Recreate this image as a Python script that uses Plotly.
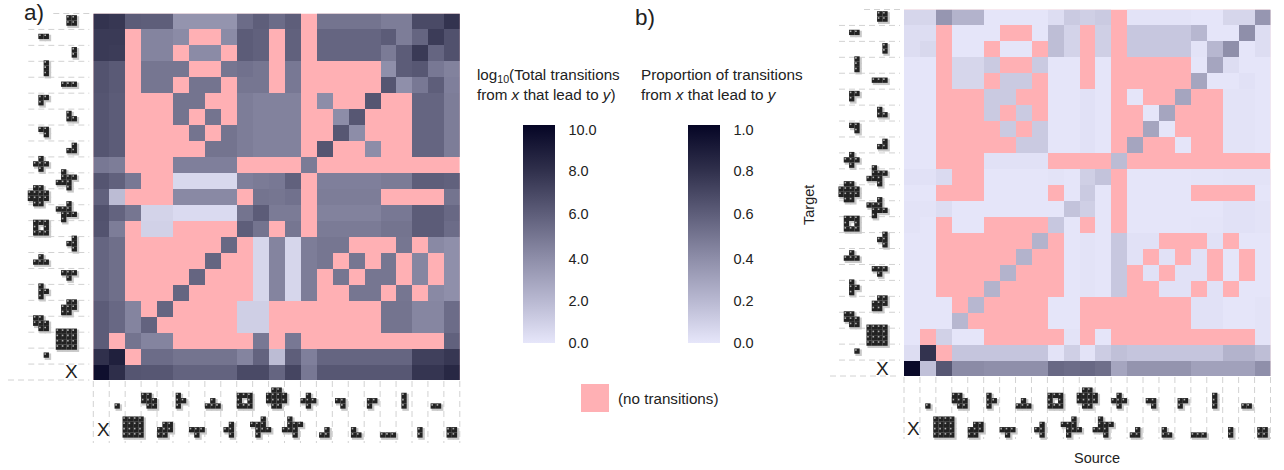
import plotly.graph_objects as go

W, H = 1284, 470
N = None

# Value rows run from the top row (y index 22) to the bottom row (y index 0, "X").
LOG_TOTALS = [
    [7.8,7.6,6.0,5.9,5.9,3.6,3.6,3.6,3.6,5.3,5.9,5.3,5.9,N,5.0,5.0,5.0,5.0,4.6,4.6,6.8,6.8,7.8],
    [7.5,7.5,N,4.3,4.3,4.0,N,N,4.0,6.0,5.8,N,5.8,N,5.6,5.6,5.6,5.6,6.0,4.6,5.6,7.4,6.5],
    [7.5,7.4,N,4.3,4.3,N,4.0,4.0,N,6.0,5.8,N,5.8,N,5.6,5.6,5.6,5.6,4.7,6.0,7.5,5.6,6.5],
    [6.4,6.1,N,4.9,4.9,4.9,N,N,4.9,5.1,4.9,N,4.8,N,N,N,N,N,3.8,6.0,6.2,4.8,4.4],
    [6.4,6.1,N,4.9,4.9,N,5.0,5.0,N,4.9,4.9,N,4.8,N,N,N,N,N,6.3,3.8,4.8,5.9,4.5],
    [6.3,6.0,N,N,N,5.0,5.0,N,N,4.6,4.4,4.4,4.4,N,3.9,N,N,6.3,N,N,5.6,5.6,4.6],
    [6.3,6.0,N,N,N,5.0,N,5.0,N,4.6,4.4,4.4,4.4,N,N,3.9,6.2,N,N,N,5.6,5.6,4.6],
    [6.3,6.0,N,N,N,N,5.0,N,5.0,4.6,4.4,4.4,4.4,N,N,6.2,3.9,N,N,N,5.6,5.6,4.6],
    [6.3,6.0,N,N,N,N,N,5.0,5.0,4.6,4.4,4.4,4.4,N,6.3,N,N,3.9,N,N,5.6,5.6,4.6],
    [4.8,4.6,N,N,N,4.5,4.5,4.5,4.5,N,N,N,N,4.7,N,N,N,N,N,N,N,N,N],
    [6.3,5.8,4.8,N,N,0.6,0.6,0.6,0.6,4.5,4.7,4.8,5.8,N,4.5,4.5,4.5,4.5,4.7,4.7,5.9,5.9,5.8],
    [5.8,1.8,N,N,N,4.1,4.1,4.1,4.1,N,5.0,4.9,5.1,N,4.6,4.6,4.6,4.6,N,N,N,N,5.0],
    [6.5,5.7,4.9,0.8,0.8,0.5,0.5,0.5,0.5,5.0,6.0,4.7,4.7,N,4.4,4.4,4.4,4.4,4.8,4.8,6.0,6.0,5.5],
    [6.4,4.6,N,0.9,0.9,N,N,N,N,5.9,5.0,N,4.9,N,4.7,4.7,4.7,4.7,5.0,5.0,6.0,6.0,5.3],
    [5.6,5.2,N,N,N,N,N,N,5.5,N,0.7,4.3,0.7,4.6,4.9,4.9,N,N,N,4.9,N,4.1,3.8],
    [5.6,5.2,N,N,N,N,N,5.6,N,N,0.7,4.3,0.7,4.6,4.9,N,4.9,N,4.9,N,4.2,N,3.8],
    [5.6,5.2,N,N,N,N,5.6,N,N,N,0.7,4.3,0.7,4.6,N,4.9,N,4.9,4.9,N,4.2,N,3.8],
    [5.6,5.2,N,N,N,5.6,N,N,N,N,0.7,4.3,0.7,4.6,N,N,4.9,4.9,N,4.9,N,4.1,3.8],
    [6.0,5.5,4.3,N,5.6,N,N,N,N,1.0,1.0,N,N,N,N,N,N,N,5.0,5.0,4.2,4.2,5.3],
    [6.0,5.5,4.3,5.7,N,N,N,N,N,1.0,1.0,N,N,N,N,N,N,N,5.0,5.0,4.2,4.2,5.3],
    [6.0,N,5.0,4.3,4.3,N,N,N,N,N,4.8,N,4.8,N,N,N,N,N,N,N,N,N,5.8],
    [7.9,8.7,N,5.3,5.3,5.0,5.0,5.0,5.0,4.3,5.7,1.8,5.9,4.5,5.6,5.6,5.6,5.6,5.6,5.6,7.2,7.2,7.6],
    [9.5,8.0,6.3,6.2,6.2,5.7,5.7,5.7,5.7,6.8,6.8,5.6,7.0,4.8,6.2,6.2,6.2,6.2,6.2,6.2,7.7,7.7,8.3],
]

PROPORTIONS = [
    [.07,.07,.35,.22,.22,.005,.005,.005,.005,.04,.12,.10,.12,N,.012,.012,.012,.012,.005,.005,.07,.07,.35],
    [.04,.04,N,.005,.005,.005,N,N,.005,.17,.08,N,.10,N,.13,.13,.13,.13,.20,.005,.005,.38,.04],
    [.04,.06,N,.005,.005,N,.005,.005,N,.17,.08,N,.10,N,.13,.13,.13,.13,.012,.20,.38,.005,.04],
    [.005,.005,N,.07,.07,.12,N,N,.12,.005,.005,N,.005,N,N,N,N,N,.005,.28,.04,.005,.005],
    [.005,.005,N,.07,.07,N,.12,.12,N,.005,.005,N,.005,N,N,N,N,N,.28,.005,.005,.02,.005],
    [.005,.005,N,N,N,.12,.12,N,N,.005,.005,.02,.005,N,.005,N,N,.28,N,N,.012,.012,.005],
    [.005,.005,N,N,N,.12,N,.12,N,.005,.005,.02,.005,N,N,.005,.28,N,N,N,.012,.012,.005],
    [.005,.005,N,N,N,N,.12,N,.12,.005,.005,.02,.005,N,N,.28,.005,N,N,N,.012,.012,.005],
    [.005,.005,N,N,N,N,N,.12,.12,.005,.005,.02,.005,N,.28,N,N,.005,N,N,.012,.012,.005],
    [.005,.005,N,N,N,.02,.02,.02,.02,N,N,N,N,.18,N,N,N,N,N,N,N,N,N],
    [.02,.02,.05,N,N,.005,.005,.005,.005,.012,.005,.10,.15,N,.005,.005,.005,.005,.01,.01,.012,.012,.012],
    [.005,.005,N,N,N,.005,.005,.005,.005,N,.005,.12,.005,N,.005,.005,.005,.005,N,N,N,N,.005],
    [.012,.012,.04,.005,.005,.005,.005,.005,.005,.005,.15,.10,.005,N,.005,.005,.005,.005,.005,.005,.02,.02,.012],
    [.012,.005,N,.005,.005,N,N,N,N,.13,.005,N,.005,N,.005,.005,.005,.005,.01,.01,.02,.02,.012],
    [.005,.005,N,N,N,N,N,N,.22,N,.005,.012,.005,.13,.02,.02,N,N,N,.02,N,.005,.005],
    [.005,.005,N,N,N,N,N,.22,N,N,.005,.012,.005,.13,.02,N,.02,N,.02,N,.005,N,.005],
    [.005,.005,N,N,N,N,.22,N,N,N,.005,.012,.005,.13,N,.02,N,.02,.02,N,.005,N,.005],
    [.005,.005,N,N,N,.22,N,N,N,N,.005,.012,.005,.13,N,N,.02,.02,N,.02,N,.005,.005],
    [.005,.005,.005,N,.20,N,N,N,N,.005,.005,N,N,N,N,N,N,N,.02,.02,.005,.005,.012],
    [.005,.005,.005,.20,N,N,N,N,N,.005,.005,N,N,N,N,N,N,N,.02,.02,.005,.005,.012],
    [.005,N,.09,.005,.005,N,N,N,N,N,.012,N,.005,N,N,N,N,N,N,N,N,N,.012],
    [.04,.78,N,.14,.14,.14,.14,.14,.14,.012,.10,.012,.11,.16,.14,.14,.14,.14,.14,.14,.22,.22,.17],
    [.98,.16,.62,.40,.40,.38,.38,.38,.38,.55,.53,.55,.52,.28,.36,.36,.36,.36,.30,.30,.30,.30,.38],
]

# Tick labels: the game pieces, index 0 is the text "X", drawn as small cell patterns.
PIECES = [
    ["#"],
    ["####", "####", "####", "####"],
    ["##.", "###", ".##"],
    [".##", "###", "##."],
    ["#.", "##", "#."],
    ["###", ".#."],
    [".#.", "###"],
    [".#", "##", ".#"],
    ["###", "#.#", "###"],
    ["..#.", "###.", ".###", ".#.."],
    [".##.", "####", "####", ".##."],
    [".#..", ".###", "###.", "..#."],
    [".#.", "###", ".#."],
    [".#", "##"],
    ["##", ".#"],
    ["#.", "##"],
    ["##", "#."],
    ["###"],
    ["#", "#", "#"],
    ["#", "#"],
    ["##"],
    ["##", "##"],
]

LOG_TICKS = [0, 1.93, 3.85, 5.92, 7.89, 9.77]
LOG_LABELS = ["0.0", "2.0", "4.0", "6.0", "8.0", "10.0"]
PROP_TICKS = [0, .193, .385, .592, .789, .977]
PROP_LABELS = ["0.0", "0.2", "0.4", "0.6", "0.8", "1.0"]

RAMP = [[0, "#e6e6fa"], [.2, "#b7b7d0"], [.4, "#8b8ba6"], [.6, "#5c5c78"], [.8, "#2e2e4a"], [1, "#050525"]]
PINK = "#ffb0b4"
DASH = "#d2d2d2"
CELL_PX = 5.3
UNIT = 366.5 / 23

fig = go.Figure()
IDX = list(range(23))


def panel(z, xa, ya, left, bottom, zmax, tick_vals, tick_text, bar_x, up_gap, low_gap, long_from):
    fig.add_trace(go.Heatmap(
        z=z[::-1], x=IDX, y=IDX, xaxis=xa, yaxis=ya, zmin=0, zmax=zmax,
        colorscale=RAMP, hoverongaps=False,
        colorbar=dict(
            x=bar_x / W, xanchor="left", xpad=0, y=1 - 234 / H, yanchor="middle", ypad=0,
            thicknessmode="pixels", thickness=32, lenmode="pixels", len=218,
            outlinewidth=0, borderwidth=0, tickmode="array", tickvals=tick_vals, ticktext=tick_text,
            ticks="outside", ticklen=11, tickcolor="rgba(0,0,0,0)",
            tickfont=dict(family="Liberation Sans", size=14.5, color="#222222"),
        ),
    ))
    # dashed guides at the cell edges, outside the heatmap (drawn on the full-page overlay axes)
    gx, gy = [], []
    for k in range(24):
        y_edge = bottom - k * UNIT
        start = long_from if k == 0 else (left - 40 if k == 23 else left - 65)
        gx += [start, left - 4, None]
        gy += [y_edge, y_edge, None]
        x_edge = left + k * UNIT
        gx += [x_edge, x_edge, None]
        gy += [bottom + 1, bottom + 63, None]
    fig.add_trace(go.Scatter(x=gx, y=gy, xaxis="x3", yaxis="y3", mode="lines",
                             line=dict(color=DASH, width=1, dash="6px,4px"), hoverinfo="skip", showlegend=False))
    # pieces on both axes
    px, py = [], []
    for n, cells in enumerate(PIECES):
        i = n + 1
        rows, cols = len(cells), len(cells[0])
        upper = i % 2 == 1
        base = up_gap if upper else low_gap
        right = 47 if upper else 19
        for r, row in enumerate(cells):
            for c, ch in enumerate(row):
                if ch != "#":
                    continue
                # below the x axis: bottom aligned, centred on the column
                px.append(left + (i + 0.5) * UNIT + (c - (cols - 1) / 2) * CELL_PX)
                py.append(bottom + base - (rows - 1 - r) * CELL_PX)
                # left of the y axis: right aligned, centred on the row
                px.append(left - right - (cols - 1 - c) * CELL_PX)
                py.append(bottom - (i + 0.5) * UNIT - 1 + (r - (rows - 1) / 2) * CELL_PX)
    for dx, dy, size, color in [(1.6, 1.6, 6.5, "#c9c9c9"), (0, 0, 5.3, "#222222")]:
        fig.add_trace(go.Scatter(x=[v + dx for v in px], y=[v + dy for v in py],
                                 xaxis="x3", yaxis="y3", mode="markers",
                                 marker=dict(symbol="square", size=size, color=color, line=dict(width=0)),
                                 hoverinfo="skip", showlegend=False))
    fig.add_trace(go.Scatter(x=[v - 1.1 for v in px], y=[v - 1.1 for v in py],
                             xaxis="x3", yaxis="y3", mode="markers",
                             marker=dict(symbol="square", size=1.6, color="#b0b0b0", line=dict(width=0)),
                             hoverinfo="skip", showlegend=False))


panel(LOG_TOTALS, "x", "y", 93.3, 380, 10, LOG_TICKS, LOG_LABELS, 523, 26, 55, 8)
panel(PROPORTIONS, "x2", "y2", 904, 376, 1, PROP_TICKS, PROP_LABELS, 688, 30, 59, 830)

ax = dict(range=[-0.5, 22.5], showgrid=False, zeroline=False, showticklabels=False, ticks="", showline=False)
fig.update_layout(
    width=W, height=H, margin=dict(l=0, r=0, t=0, b=0, pad=0), autosize=False,
    paper_bgcolor="white", plot_bgcolor="rgba(0,0,0,0)", showlegend=False,
    font=dict(family="Liberation Sans", color="#222222"),
    xaxis=dict(ax, domain=[93.3 / W, (93.3 + 23 * UNIT) / W]),
    yaxis=dict(ax, domain=[1 - 380 / H, 1 - (380 - 23 * UNIT) / H]),
    xaxis2=dict(ax, domain=[904 / W, (904 + 23 * UNIT) / W], anchor="y2"),
    yaxis2=dict(ax, domain=[1 - 376 / H, 1 - (376 - 23 * UNIT) / H], anchor="x2"),
    xaxis3=dict(range=[0, W], domain=[0, 1], anchor="y3", visible=False),
    yaxis3=dict(range=[H, 0], domain=[0, 1], anchor="x3", visible=False),
)


def note(text, x, y, size=14.0, xanchor="left", yanchor="middle", angle=0, color="#222222"):
    fig.add_annotation(text=text, x=x / W, y=1 - y / H, xref="paper", yref="paper", showarrow=False,
                       xanchor=xanchor, yanchor=yanchor, align="left", textangle=angle,
                       font=dict(family="Liberation Sans", size=size, color=color),
                       borderpad=0, borderwidth=0)


note("a)", 24, 12, size=22.5)
note("b)", 635, 18, size=22.5)
note("log<sub>10</sub>(Total transitions<br>from <i>x</i> that lead to <i>y</i>)", 477, 85, size=15.2)
note("Proportion of transitions<br>from <i>x</i> that lead to <i>y</i>", 641, 84.5, size=15.3)
note("(no transitions)", 618, 398, size=15.2)
note("Target", 809, 205, size=14.5, xanchor="center", angle=-90)
note("Source", 1097, 458, size=14.5, xanchor="center")
note("X", 71, 371, size=19, xanchor="center")
note("X", 103, 429, size=19, xanchor="center")
note("X", 882, 368, size=19, xanchor="center")
note("X", 913, 428, size=19, xanchor="center")

fig.add_shape(type="rect", xref="paper", yref="paper", x0=581 / W, x1=609 / W, y0=1 - 412 / H, y1=1 - 384 / H,
              fillcolor=PINK, line=dict(width=0))
for xa, ya in [("x", "y"), ("x2", "y2")]:
    fig.add_shape(type="rect", xref=xa, yref=ya, x0=-0.5, x1=22.5, y0=-0.5, y1=22.5,
                  fillcolor=PINK, line=dict(width=0), layer="below")

fig.write_html("out.html", config={"displayModeBar": False},
               post_script="document.body.style.margin='0';document.documentElement.style.overflow='hidden';")
